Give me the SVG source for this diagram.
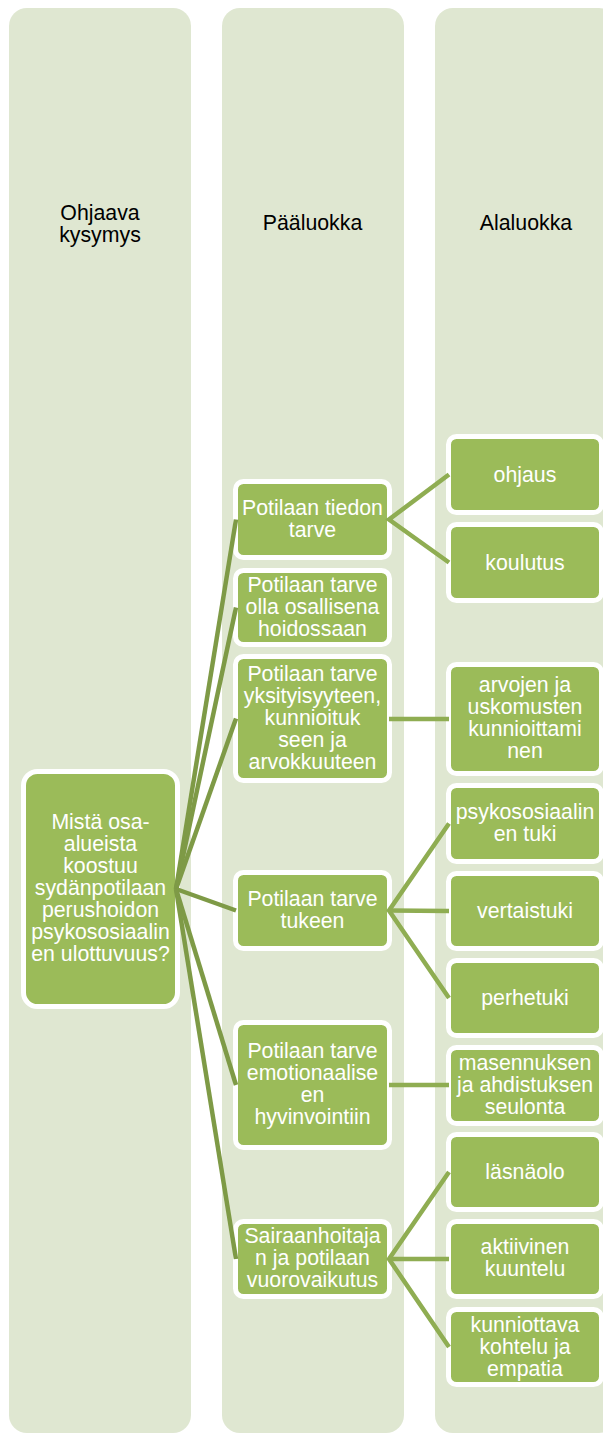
<svg xmlns="http://www.w3.org/2000/svg" width="603" height="1434" viewBox="0 0 603 1434">
<style>
.col{fill:#dfe7d1}
.hdr{font-family:"Liberation Sans",Arial,sans-serif;font-size:21.3px;fill:#000;text-anchor:middle}
.box{fill:#9bbb59;stroke:#fff;stroke-width:5}
.lbl{font-family:"Liberation Sans",Arial,sans-serif;font-size:21.3px;fill:#fff;text-anchor:middle}
.c1{stroke:#7e9a46;stroke-width:4.5;fill:none}
.c2{stroke:#8fad52;stroke-width:4.5;fill:none}
</style>
<rect width="603" height="1434" fill="#fff"/>
<g id="columns">
<rect class="col" x="9" y="8" width="182" height="1425" rx="18"/>
<rect class="col" x="222" y="8" width="182" height="1425" rx="18"/>
<rect class="col" x="435" y="8" width="182" height="1425" rx="18"/>
<text class="hdr" x="100" y="220">Ohjaava</text>
<text class="hdr" x="100" y="242">kysymys</text>
<text class="hdr" x="312.5" y="230">Pääluokka</text>
<text class="hdr" x="526" y="230">Alaluokka</text>
</g>
<g id="main">
<rect class="box" x="23.5" y="771.5" width="154" height="235" rx="14"/>
<text class="lbl" x="100.5" y="829">Mistä osa-</text>
<text class="lbl" x="100.5" y="851">alueista</text>
<text class="lbl" x="100.5" y="873">koostuu</text>
<text class="lbl" x="100.5" y="895">sydänpotilaan</text>
<text class="lbl" x="100.5" y="917">perushoidon</text>
<text class="lbl" x="100.5" y="939">psykososiaalin</text>
<text class="lbl" x="100.5" y="961">en ulottuvuus?</text>
</g>
<g id="p1">
<rect class="box" x="235.5" y="481.5" width="154" height="76" rx="8"/>
<text class="lbl" x="312.5" y="514.5">Potilaan tiedon</text>
<text class="lbl" x="312.5" y="536.5">tarve</text>
</g>
<g id="p2">
<rect class="box" x="235.5" y="570.5" width="154" height="74" rx="8"/>
<text class="lbl" x="312.5" y="591.5">Potilaan tarve</text>
<text class="lbl" x="312.5" y="613.5">olla osallisena</text>
<text class="lbl" x="312.5" y="635.5">hoidossaan</text>
</g>
<g id="p3">
<rect class="box" x="235.5" y="656.5" width="154" height="124" rx="8"/>
<text class="lbl" x="312.5" y="680.5">Potilaan tarve</text>
<text class="lbl" x="312.5" y="702.5">yksityisyyteen,</text>
<text class="lbl" x="312.5" y="724.5">kunnioituk</text>
<text class="lbl" x="312.5" y="746.5">seen ja</text>
<text class="lbl" x="312.5" y="768.5">arvokkuuteen</text>
</g>
<g id="p4">
<rect class="box" x="235.5" y="872.5" width="154" height="76" rx="8"/>
<text class="lbl" x="312.5" y="905.5">Potilaan tarve</text>
<text class="lbl" x="312.5" y="927.5">tukeen</text>
</g>
<g id="p5">
<rect class="box" x="235.5" y="1022.5" width="154" height="125" rx="8"/>
<text class="lbl" x="312.5" y="1058">Potilaan tarve</text>
<text class="lbl" x="312.5" y="1080">emotionaalise</text>
<text class="lbl" x="312.5" y="1102">en</text>
<text class="lbl" x="312.5" y="1124">hyvinvointiin</text>
</g>
<g id="p6">
<rect class="box" x="235.5" y="1221.5" width="154" height="75" rx="8"/>
<text class="lbl" x="312.5" y="1243">Sairaanhoitaja</text>
<text class="lbl" x="312.5" y="1265">n ja potilaan</text>
<text class="lbl" x="312.5" y="1287">vuorovaikutus</text>
</g>
<g id="a1">
<rect class="box" x="448.5" y="436.5" width="153" height="76" rx="8"/>
<text class="lbl" x="525" y="481.5">ohjaus</text>
</g>
<g id="a2">
<rect class="box" x="448.5" y="524.5" width="153" height="76" rx="8"/>
<text class="lbl" x="525" y="569.5">koulutus</text>
</g>
<g id="a3">
<rect class="box" x="448.5" y="664.5" width="153" height="109" rx="8"/>
<text class="lbl" x="525" y="692">arvojen ja</text>
<text class="lbl" x="525" y="714">uskomusten</text>
<text class="lbl" x="525" y="736">kunnioittami</text>
<text class="lbl" x="525" y="758">nen</text>
</g>
<g id="a4">
<rect class="box" x="448.5" y="785.5" width="153" height="76" rx="8"/>
<text class="lbl" x="525" y="818.5">psykososiaalin</text>
<text class="lbl" x="525" y="840.5">en tuki</text>
</g>
<g id="a5">
<rect class="box" x="448.5" y="873.5" width="153" height="75" rx="8"/>
<text class="lbl" x="525" y="918">vertaistuki</text>
</g>
<g id="a6">
<rect class="box" x="448.5" y="960.5" width="153" height="75" rx="8"/>
<text class="lbl" x="525" y="1005">perhetuki</text>
</g>
<g id="a7">
<rect class="box" x="448.5" y="1047.5" width="153" height="76" rx="8"/>
<text class="lbl" x="525" y="1069.5">masennuksen</text>
<text class="lbl" x="525" y="1091.5">ja ahdistuksen</text>
<text class="lbl" x="525" y="1113.5">seulonta</text>
</g>
<g id="a8">
<rect class="box" x="448.5" y="1134.5" width="153" height="75" rx="8"/>
<text class="lbl" x="525" y="1179">läsnäolo</text>
</g>
<g id="a9">
<rect class="box" x="448.5" y="1221.5" width="153" height="75" rx="8"/>
<text class="lbl" x="525" y="1254">aktiivinen</text>
<text class="lbl" x="525" y="1276">kuuntelu</text>
</g>
<g id="a10">
<rect class="box" x="448.5" y="1309.5" width="153" height="75" rx="8"/>
<text class="lbl" x="525" y="1332">kunniottava</text>
<text class="lbl" x="525" y="1354">kohtelu ja</text>
<text class="lbl" x="525" y="1376">empatia</text>
</g>
<g id="connectors">
<line class="c1" x1="176" y1="889" x2="236" y2="519.5"/>
<line class="c1" x1="176" y1="889" x2="236" y2="607.5"/>
<line class="c1" x1="176" y1="889" x2="236" y2="718.5"/>
<line class="c1" x1="176" y1="889" x2="236" y2="910.5"/>
<line class="c1" x1="176" y1="889" x2="236" y2="1085"/>
<line class="c1" x1="176" y1="889" x2="236" y2="1259"/>
<polyline class="c2" points="449,474.5 389,519.5 449,562.5"/>
<line class="c2" x1="389" y1="719" x2="449" y2="719"/>
<polyline class="c2" points="449,823.5 389,910.5 449,998"/>
<line class="c2" x1="389" y1="910.5" x2="449" y2="911"/>
<line class="c2" x1="389" y1="1085" x2="449" y2="1085"/>
<polyline class="c2" points="449,1172 389,1259 449,1347"/>
<line class="c2" x1="389" y1="1259" x2="449" y2="1259"/>
</g>
</svg>
